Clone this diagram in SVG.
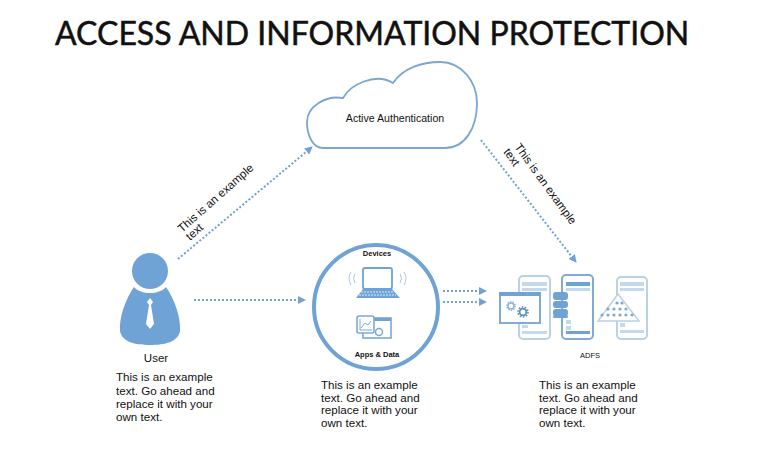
<svg xmlns="http://www.w3.org/2000/svg" width="760" height="475" viewBox="0 0 760 475">
<style>
text{font-family:"Liberation Sans",Arial,sans-serif;fill:#111}
.body{font-size:11.6px}
.dash{fill:none;stroke:#6fa3d4;stroke-width:2;stroke-dasharray:2 2}
.b{fill:#6fa3d6}
.pale{fill:#fff;stroke:#b9d2ea;stroke-width:2}
.pb{fill:#c5d9ed}
.small{font-size:7.5px;font-weight:700;text-anchor:middle}
.cap{font-size:7.5px;text-anchor:middle}
</style>
<defs>
<marker id="arr" markerUnits="userSpaceOnUse" markerWidth="9" markerHeight="8" refX="7" refY="4" orient="auto"><path d="M0 0L8 4L0 8Z" fill="#6fa3d4"/></marker>
</defs>
<rect width="760" height="475" fill="#fff"/>
<text x="55" y="45" style="font-size:32px;font-family:'Lato','Open Sans',sans-serif;stroke:#111;stroke-width:.5">ACCESS AND INFORMATION PROTECTION</text>

<g id="connectors">
<path class="dash" marker-end="url(#arr)" d="M178 259L312 147"/>
<path class="dash" marker-end="url(#arr)" d="M481 140L576 262"/>
<path class="dash" marker-end="url(#arr)" d="M194 300H305"/>
<path class="dash" marker-end="url(#arr)" d="M443 291H486"/>
<path class="dash" marker-end="url(#arr)" d="M443 302H486"/>
</g>

<g id="cloud">
<path d="M323 148C312 148 307 134 307 122C307 107 325 95 343 98C350 85 375 72 393 83C403 68 422 62 440 62C462 62 477 82 477 103C477 128 465 148 445 148Z" fill="#fff" stroke="#7ba6cf" stroke-width="1.8"/>
<text x="395" y="122" text-anchor="middle" style="font-size:10.6px">Active Authentication</text>
</g>
<text transform="translate(182 233) rotate(-41.5)" class="body">This is an example</text>
<text transform="translate(190 241) rotate(-41.5)" class="body">text</text>
<text transform="translate(514 147) rotate(54)" class="body">This is an example</text>
<text transform="translate(503 152) rotate(54)" class="body">text</text>

<g id="user">
<circle cx="150" cy="271" r="18" class="b"/>
<path d="M134 287C141 295 159 295 166 287C175 300 181 318 180 331C178 342 165 345 150 345C135 345 122 342 120 331C119 318 125 300 134 287Z" class="b"/>
<path d="M150 298L147 302L149 305L146 324L150 329L154 324L151 305L153 302Z" fill="#fff"/>
<text x="156" y="362" text-anchor="middle" style="font-size:11.5px">User</text>
<text class="body" x="116" y="381">This is an example</text>
<text class="body" x="116" y="395">text. Go ahead and</text>
<text class="body" x="116" y="408">replace it with your</text>
<text class="body" x="116" y="421">own text.</text>
</g>

<g id="devices">
<circle cx="376" cy="307" r="62" fill="#fff" stroke="#6fa3d6" stroke-width="4"/>
<text class="small" x="377" y="256">Devices</text>
<rect x="363" y="268" width="29" height="21" rx="2" fill="#fff" stroke="#6fa3d6" stroke-width="1.8"/>
<path d="M363 289H392L400 298H356Z" class="b"/>
<path d="M361 292H394M359 295H396" stroke="#fff" stroke-width=".8" stroke-dasharray="2 1" fill="none"/>
<path d="M355 274Q352 278 355 283M351 272Q347 278 351 285M400 274Q403 278 400 283M404 272Q408 278 404 285" fill="none" stroke="#a9c6e4" stroke-width="1"/>
<rect x="363" y="318" width="28" height="20" fill="#fff" stroke="#7ba9d8" stroke-width="1.6"/>
<rect x="363" y="318" width="28" height="3" class="b"/>
<rect x="357" y="316" width="17" height="17" rx="2" fill="#fff" stroke="#7ba9d8" stroke-width="1.6"/>
<path d="M360 319V330H372M361 328L365 323L368 325L371 321" fill="none" stroke="#7ba9d8"/>
<circle cx="379" cy="332" r="3.5" fill="#fff" stroke="#7ba9d8" stroke-width="1.5"/>
<text class="small" x="377" y="357">Apps &amp; Data</text>
<text class="body" x="321" y="389">This is an example</text>
<text class="body" x="321" y="402">text. Go ahead and</text>
<text class="body" x="321" y="414">replace it with your</text>
<text class="body" x="321" y="427">own text.</text>
</g>

<g id="adfs">
<rect x="519" y="276" width="31" height="63" rx="4" class="pale"/>
<rect x="522" y="282" width="25" height="4" class="pb"/><rect x="522" y="288" width="25" height="3" class="pb"/>
<rect x="522" y="331" width="25" height="3" class="pb"/><rect x="522" y="325" width="6" height="3" class="pb"/>
<rect x="562" y="275" width="31" height="64" rx="4" fill="#fff" stroke="#7fabd6" stroke-width="2"/>
<rect x="566" y="282" width="24" height="4" class="b"/><rect x="566" y="288" width="24" height="3" class="pb"/>
<rect x="566" y="320" width="5" height="4" class="pb"/><rect x="566" y="326" width="5" height="4" class="pb"/>
<rect x="566" y="331" width="24" height="3" class="b"/>
<rect x="617" y="277" width="30" height="62" rx="4" class="pale"/>
<rect x="620" y="282" width="24" height="4" class="pb"/><rect x="620" y="288" width="24" height="3" class="pb"/>
<rect x="620" y="330" width="24" height="3" class="pb"/><rect x="620" y="323" width="5" height="4" class="pb"/>
<rect x="500" y="293" width="40" height="30" fill="#fff" stroke="#7fabd6" stroke-width="2"/>
<rect x="499" y="292" width="41" height="4" class="b"/>
<circle cx="511" cy="306" r="3" fill="none" stroke="#8db4da" stroke-width="1.5"/>
<circle cx="511" cy="306" r="4.2" fill="none" stroke="#8db4da" stroke-width="1.4" stroke-dasharray="1.4 1.2"/>
<circle cx="523" cy="312" r="3.4" fill="none" stroke="#5f90c0" stroke-width="1.8"/>
<circle cx="523" cy="312" r="5" fill="none" stroke="#5f90c0" stroke-width="1.6" stroke-dasharray="1.6 1.5"/>
<g class="b">
<rect x="553" y="292" width="15" height="8" rx="3"/>
<rect x="553" y="301" width="15" height="7" rx="3"/>
<rect x="553" y="309" width="15" height="7" rx="3"/>
<rect x="553" y="315" width="15" height="3" rx="1.5"/>
</g>
<path d="M618 294L598 321L639 321Z" fill="#fff" stroke="#b9d2ea" stroke-width="1.5"/>
<g fill="#7fa9d2">
<circle cx="617" cy="303" r="1.6"/><circle cx="622" cy="303" r="1.6"/>
<circle cx="608" cy="309" r="1.6"/><circle cx="614" cy="309" r="1.6"/><circle cx="620" cy="309" r="1.6"/><circle cx="626" cy="309" r="1.6"/>
<circle cx="602" cy="315" r="1.6"/><circle cx="608" cy="315" r="1.6"/><circle cx="614" cy="315" r="1.6"/><circle cx="620" cy="315" r="1.6"/><circle cx="626" cy="315" r="1.6"/><circle cx="632" cy="315" r="1.6"/>
</g>
<text class="cap" x="590" y="358">ADFS</text>
<text class="body" x="539" y="389">This is an example</text>
<text class="body" x="539" y="402">text. Go ahead and</text>
<text class="body" x="539" y="414">replace it with your</text>
<text class="body" x="539" y="427">own text.</text>
</g>
</svg>
